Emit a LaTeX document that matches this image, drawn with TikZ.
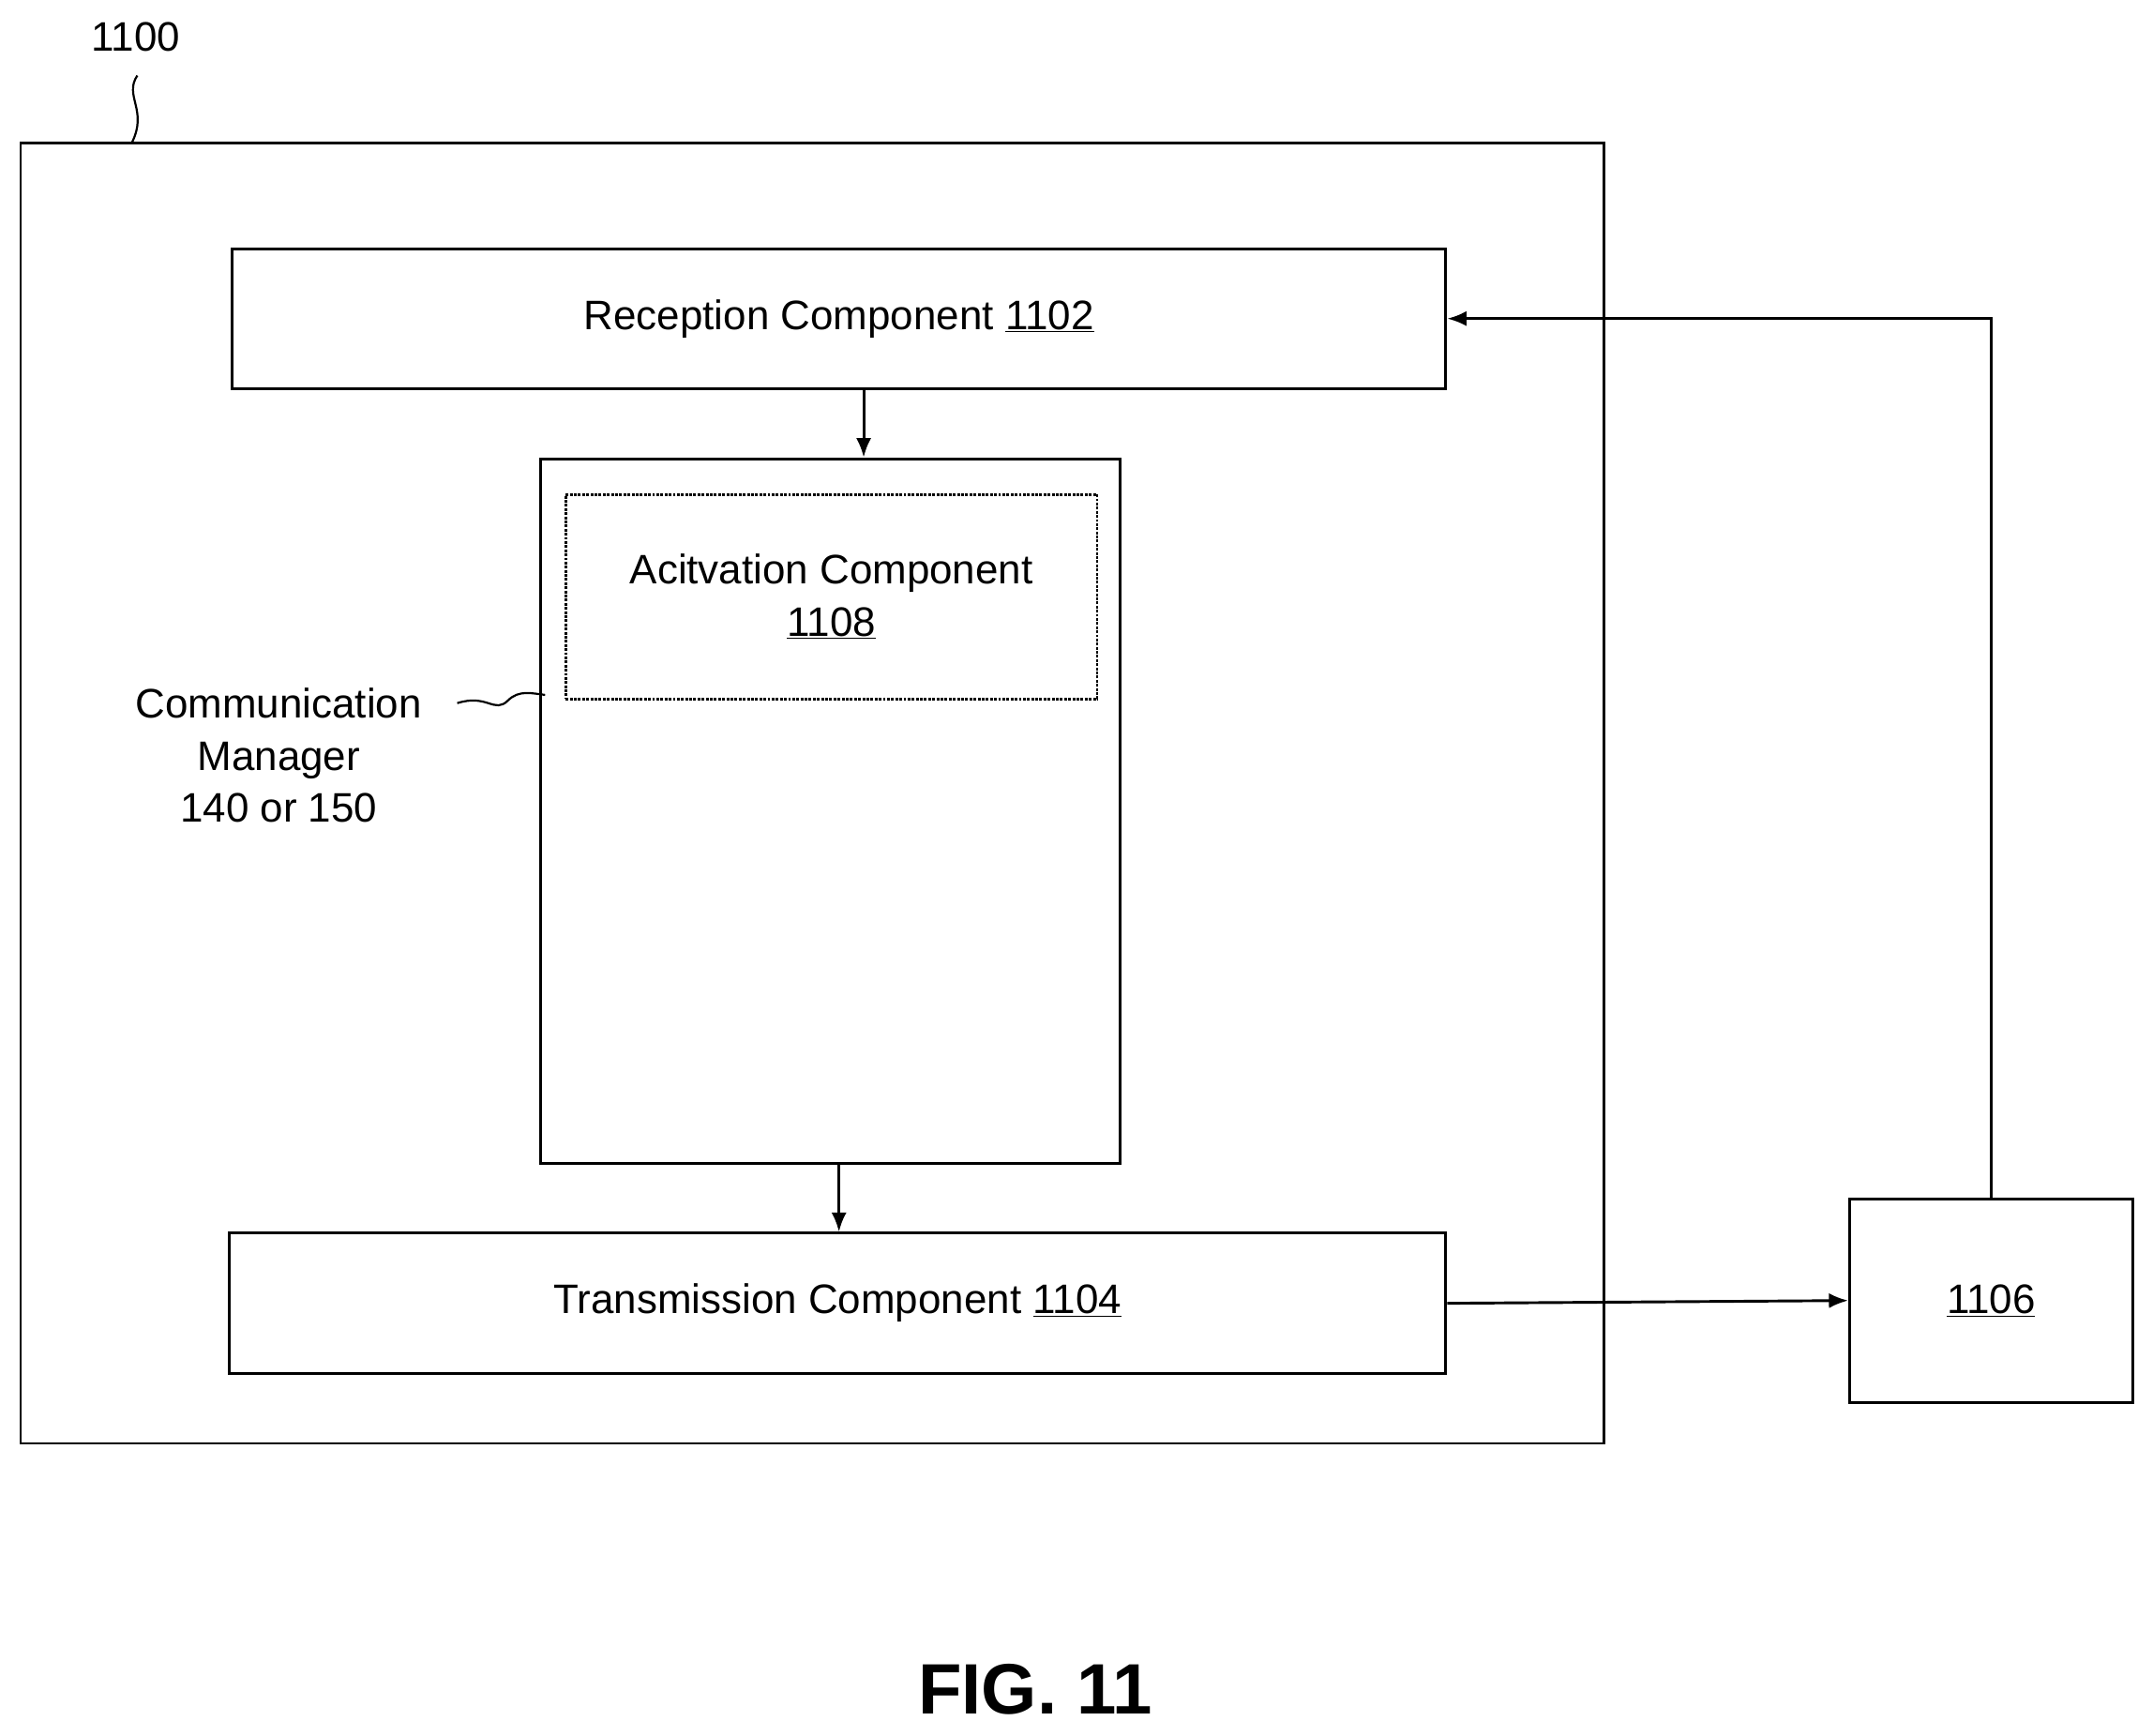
\documentclass[tikz,border=0pt]{standalone}
\usepackage{fontspec}
\setmainfont{Liberation Sans}
\usetikzlibrary{arrows.meta}
\begin{document}
\begin{tikzpicture}[x=1pt,y=-1pt,
  box/.style={draw,line width=2pt},
  arr/.style={line width=2pt,-{Latex[length=14pt,width=11pt]}},
  lbl/.style={font=\fontsize{30}{38}\selectfont,align=center}]
\useasboundingbox (0,0) rectangle (1568,1264);
\draw[box] (15,104) rectangle (1168,1051);
\node[box,minimum width=884pt,minimum height=102pt,lbl] (rec) at (611,232) {Reception Component \underline{1102}};
\node[box,minimum width=422pt,minimum height=513pt] (cm) at (605,590.5) {};
\node[draw,densely dotted,line width=2pt,minimum width=387pt,minimum height=149pt,lbl] (act) at (605.5,434.5) {Acitvation Component\\\underline{1108}};
\node[box,minimum width=886pt,minimum height=102pt,lbl] (tx) at (610,949) {Transmission Component \underline{1104}};
\node[box,minimum width=206pt,minimum height=148pt,lbl] (ext) at (1450,947) {\underline{1106}};
\node[lbl] (n1100) at (99,27) {1100};
\node[lbl] (cml) at (203,550) {Communication\\Manager\\140 or 150};
\node[font=\bfseries\fontsize{52}{60}\selectfont] (fig) at (754,1230) {FIG. 11};
\coordinate (xa) at (629,0);
\coordinate (xb) at (611,0);
\coordinate (corner) at (1450,232);
\draw[arr] (rec.south -| xa) -- (cm.north -| xa);
\draw[arr] (cm.south -| xb) -- (tx.north -| xb);
\draw[arr] (tx.east) -- (ext.west);
\draw[arr] (ext.north) -- (corner) -- (rec.east);
\draw[line width=1.5pt] (100,55) .. controls (90,70) and (108,80) .. (96,104);
\draw[line width=1.5pt] (333,512) .. controls (355,505) and (360,520) .. (370,510) .. controls (378,502) and (388,505) .. (397,506);
\end{tikzpicture}
\end{document}
